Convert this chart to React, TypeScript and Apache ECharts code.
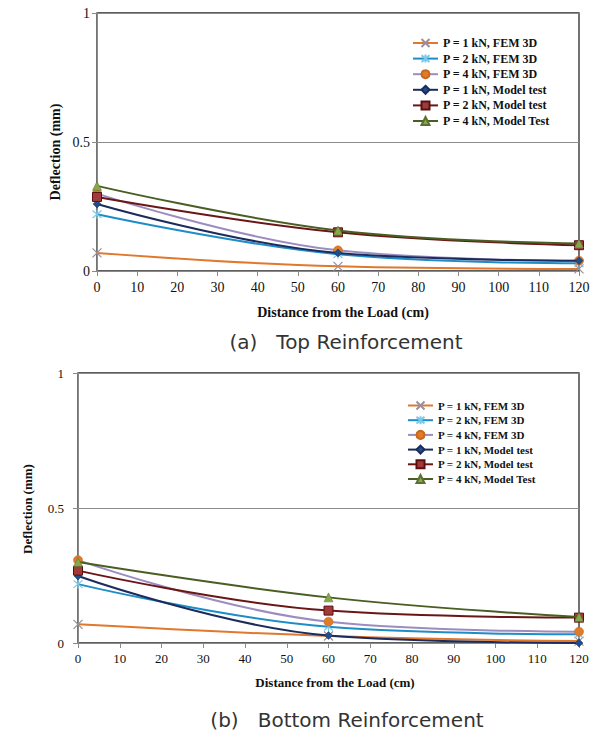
import React, { useEffect, useRef } from "react";
import * as echarts from "echarts";

const xValues = [0, 60, 120];
const seriesNames = [
  "P = 1 kN, FEM 3D",
  "P = 2 kN, FEM 3D",
  "P = 4 kN, FEM 3D",
  "P = 1 kN, Model test",
  "P = 2 kN, Model test",
  "P = 4 kN, Model Test",
];
// (a) Top reinforcement
const topP1Fem = [0.07, 0.018, 0.008];
const topP2Fem = [0.22, 0.065, 0.03];
const topP4Fem = [0.3, 0.08, 0.04];
const topP1Model = [0.26, 0.07, 0.04];
const topP2Model = [0.287, 0.15, 0.1];
const topP4Model = [0.33, 0.157, 0.107];
// (b) Bottom reinforcement
const botP1Fem = [0.069, 0.026, 0.007];
const botP2Fem = [0.218, 0.06, 0.032];
const botP4Fem = [0.307, 0.079, 0.042];
const botP1Model = [0.248, 0.028, 0.0];
const botP2Model = [0.268, 0.12, 0.094];
const botP4Model = [0.3, 0.169, 0.096];

const xTicks = { min: 0, max: 120, interval: 10 };
const yTicks = { min: 0, max: 1, interval: 0.5 };

const SERIF = "Liberation Serif";
const SANS = "DejaVu Sans";

const styles = [
  { line: "#E0782E", symbol: "path://M0,0L10,10M10,0L0,10", fill: "rgba(0,0,0,0)", border: "#9a8f9a", size: 9, bw: 1.2 },
  { line: "#1E8CC6", symbol: "path://M0,0L10,10M10,0L0,10M5,-1L5,11", fill: "rgba(0,0,0,0)", border: "#7CC8E8", size: 9, bw: 1.2 },
  { line: "#9C8DC0", symbol: "circle", fill: "#E07B2A", border: "#C9671E", size: 9, bw: 0.5 },
  { line: "#1B2C5C", symbol: "diamond", fill: "#1F4E8C", border: "#1B2C5C", size: 8, bw: 0.5 },
  { line: "#6A1616", symbol: "rect", fill: "#A33A3A", border: "#5A1010", size: 9, bw: 1 },
  { line: "#4A5E23", symbol: "triangle", fill: "#86A84A", border: "#5A7030", size: 9, bw: 0.5 },
];

function mkSeries(idx: number, data: number[][]) {
  return data.map((vals, i) => ({
    type: "line",
    name: seriesNames[i],
    xAxisIndex: idx,
    yAxisIndex: idx,
    smooth: 0.4,
    data: xValues.map((x, k) => [x, vals[k]]),
    symbol: styles[i].symbol,
    symbolSize: styles[i].size,
    showSymbol: true,
    lineStyle: { color: styles[i].line, width: 2 },
    itemStyle: { color: styles[i].fill, borderColor: styles[i].border, borderWidth: styles[i].bw },
    emphasis: { disabled: true },
    z: 2 + i,
  }));
}

function mkXAxis(grid: number, fs: number, margin: number) {
  return {
    type: "value",
    gridIndex: grid,
    min: xTicks.min,
    max: xTicks.max,
    interval: xTicks.interval,
    axisLine: { show: true, lineStyle: { color: "#8a8a8a", width: 1 } },
    axisTick: { show: true, inside: false, length: 5, lineStyle: { color: "#8a8a8a" } },
    axisLabel: { color: "#111", fontFamily: SERIF, fontSize: fs, margin },
    splitLine: { show: false },
  };
}

function mkYAxis(grid: number, fs: number, margin: number) {
  return {
    type: "value",
    gridIndex: grid,
    min: yTicks.min,
    max: yTicks.max,
    interval: yTicks.interval,
    axisLine: { show: true, lineStyle: { color: "#8a8a8a", width: 1 } },
    axisTick: { show: true, inside: false, length: 5, lineStyle: { color: "#8a8a8a" } },
    axisLabel: { color: "#111", fontFamily: SERIF, fontSize: fs, margin },
    splitLine: { show: true, lineStyle: { color: "#8c8c8c", width: 1 } },
  };
}

function mkLegend(left: number, top: number, fs: number, gap: number) {
  return {
    orient: "vertical",
    left,
    top,
    padding: 0,
    itemWidth: 25,
    itemHeight: 10,
    itemGap: gap,
    selectedMode: false,
    data: seriesNames,
    textStyle: { fontFamily: SERIF, fontWeight: "bold", fontSize: fs, color: "#111" },
  };
}

export default function App() {
  const ref = useRef<HTMLDivElement>(null);
  useEffect(() => {
    if (!ref.current) return;
    const chart = echarts.init(ref.current, undefined, { renderer: "svg" });
    const option = {
      animation: false,
      backgroundColor: "#fff",
      textStyle: { fontFamily: SERIF },
      grid: [
        { left: 97, top: 13, width: 482, height: 258, show: true, borderColor: "#2a2a2a", borderWidth: 1.3, backgroundColor: "transparent", containLabel: false },
        { left: 78, top: 373, width: 501, height: 270, show: true, borderColor: "#2a2a2a", borderWidth: 1.3, backgroundColor: "transparent", containLabel: false },
      ],
      xAxis: [mkXAxis(0, 14, 9), mkXAxis(1, 13, 9)],
      yAxis: [mkYAxis(0, 14, 7), mkYAxis(1, 13, 14)],
      legend: [mkLegend(412, 37, 12, 3.6), mkLegend(407, 400, 11, 3.7)],
      series: [
        ...mkSeries(0, [topP1Fem, topP2Fem, topP4Fem, topP1Model, topP2Model, topP4Model]),
        ...mkSeries(1, [botP1Fem, botP2Fem, botP4Fem, botP1Model, botP2Model, botP4Model]),
      ],
      graphic: [
        { type: "text", x: 343, y: 312, style: { text: "Distance from the Load (cm)", fontFamily: SERIF, fontWeight: "bold", fontSize: 14, fill: "#111", textAlign: "center", textVerticalAlign: "middle" } },
        { type: "text", x: 55, y: 152, rotation: Math.PI / 2, style: { text: "Deflection (mm)", fontFamily: SERIF, fontWeight: "bold", fontSize: 14, fill: "#111", textAlign: "center", textVerticalAlign: "middle" } },
        { type: "text", x: 346, y: 342, style: { text: "(a)   Top Reinforcement", fontFamily: SANS, fontSize: 20, fill: "#333", textAlign: "center", textVerticalAlign: "middle" } },
        { type: "text", x: 335, y: 682, style: { text: "Distance from the Load (cm)", fontFamily: SERIF, fontWeight: "bold", fontSize: 13, fill: "#111", textAlign: "center", textVerticalAlign: "middle" } },
        { type: "text", x: 27, y: 509, rotation: Math.PI / 2, style: { text: "Deflection (mm)", fontFamily: SERIF, fontWeight: "bold", fontSize: 13, fill: "#111", textAlign: "center", textVerticalAlign: "middle" } },
        { type: "text", x: 347, y: 720, style: { text: "(b)   Bottom Reinforcement", fontFamily: SANS, fontSize: 20, fill: "#333", textAlign: "center", textVerticalAlign: "middle" } },
      ],
    };
    chart.setOption(option as any);
    return () => chart.dispose();
  }, []);
  return (
    <div
      ref={ref}
      style={{ position: "fixed", left: 0, top: 0, width: 597, height: 732, background: "#fff" }}
    />
  );
}
